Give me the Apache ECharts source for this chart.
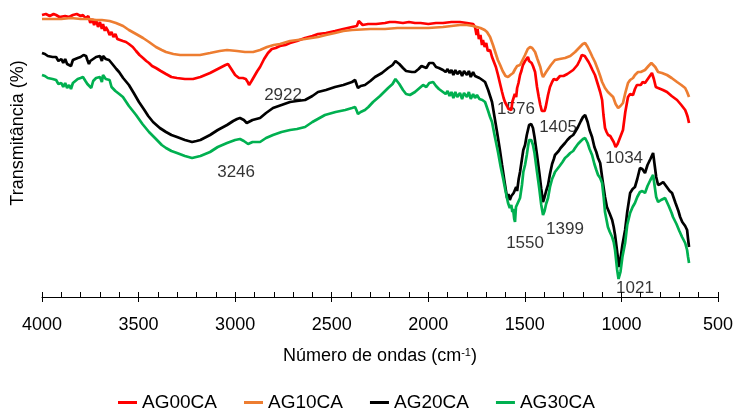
<!DOCTYPE html>
<html><head><meta charset="utf-8">
<script src="https://cdn.jsdelivr.net/npm/echarts@6/dist/echarts.min.js"></script>
<style>html,body{margin:0;padding:0;background:#fff}#c{width:739px;height:408px}</style>
</head><body><div id="c"></div>
<script>
const seriesNames = ['AG00CA','AG10CA','AG20CA','AG30CA'];
const seriesColors = ['#FF0000','#ED7D31','#000000','#00B050'];
const xTickLabels = [4000,3500,3000,2500,2000,1500,1000,500];

const ag00ca = [[4000,282],[3980,283],[3960,281],[3940,283],[3927,282],[3910,280],[3900,282],[3880,281],[3860,280],[3840,282],[3820,283],[3800,281],[3788,282],[3775,279],[3760,281],[3750,274],[3740,278],[3730,272],[3720,277],[3710,270],[3700,275],[3690,268],[3684,273],[3675,266],[3670,270],[3658,266],[3650,262],[3640,265],[3630,260],[3620,263],[3610,258],[3601,259],[3581,256],[3565,255],[3550,253],[3530,250],[3513,246],[3495,242],[3477,239],[3460,236],[3446,234],[3430,231],[3410,229],[3385,226],[3358,223],[3330,220],[3301,219],[3260,218],[3218,218],[3180,220],[3130,224],[3080,229],[3050,232],[3037,233],[3020,228],[3000,222],[2980,219],[2960,219],[2945,218],[2935,215],[2928,212],[2915,216],[2900,221],[2885,226],[2871,230],[2850,238],[2830,244],[2810,248],[2790,249],[2768,251],[2740,252],[2716,254],[2680,256],[2638,259],[2600,261],[2571,263],[2530,264],[2483,266],[2440,268],[2395,270],[2370,271],[2360,276],[2350,275],[2340,272],[2312,273],[2270,273],[2224,274],[2200,275],[2172,275],[2131,274],[2100,275],[2069,274],[2040,274],[2000,273],[1960,274],[1924,274],[1880,275],[1836,275],[1800,274],[1768,273],[1758,270],[1750,262],[1745,268],[1738,258],[1730,262],[1722,252],[1717,257],[1708,250],[1700,254],[1692,246],[1680,247],[1670,240],[1660,238],[1650,230],[1639,222],[1628,213],[1618,205],[1610,199],[1603,195],[1592,191],[1585,188],[1577,189],[1570,187],[1565,195],[1560,197],[1552,203],[1545,200],[1540,209],[1533,214],[1525,222],[1518,226],[1510,232],[1504,230],[1499,236],[1492,235],[1484,240],[1478,236],[1473,236],[1465,234],[1458,231],[1447,225],[1437,210],[1428,200],[1420,192],[1412,186],[1406,184],[1398,186],[1392,190],[1380,202],[1370,210],[1359,215],[1350,218],[1344,220],[1336,217],[1328,219],[1318,221],[1310,222],[1300,221],[1292,223],[1280,223],[1265,225],[1250,227],[1240,229],[1228,232],[1215,237],[1205,242],[1199,244],[1190,241],[1180,238],[1170,235],[1162,232],[1150,227],[1137,222],[1121,212],[1110,205],[1100,197],[1093,182],[1085,169],[1077,165],[1069,162],[1058,161],[1048,160],[1040,155],[1030,150],[1020,153],[1010,158],[1000,163],[992,167],[980,185],[966,200],[955,203],[940,202],[930,208],[920,212],[914,214],[900,212],[890,215],[878,214],[860,219],[842,224],[832,218],[822,210],[810,209],[800,207],[785,207],[764,205],[740,201],[712,197],[690,192],[670,187],[662,183],[657,180],[650,174]];

const ag10ca = [[4000,278],[3950,278],[3900,278],[3850,279],[3800,278],[3760,278],[3720,277],[3690,277],[3650,276],[3617,274],[3580,271],[3550,267],[3513,263],[3477,259],[3446,255],[3410,250],[3380,247],[3358,245],[3320,243],[3285,242],[3223,242],[3182,242],[3130,244],[3080,246],[3042,247],[2990,246],[2949,245],[2907,245],[2871,247],[2835,250],[2800,252],[2768,253],[2716,256],[2638,258],[2571,260],[2530,262],[2483,264],[2440,266],[2395,267],[2300,268],[2224,268],[2160,269],[2100,269],[2000,269],[1924,270],[1880,271],[1836,272],[1800,272],[1768,271],[1748,270],[1730,269],[1720,268],[1708,267],[1696,265],[1680,260],[1665,252],[1650,243],[1640,237],[1628,232],[1615,226],[1600,221],[1587,220],[1575,222],[1561,224],[1550,228],[1540,231],[1532,233],[1525,232],[1512,237],[1499,242],[1485,248],[1473,250],[1462,249],[1447,245],[1435,238],[1420,230],[1412,223],[1406,220],[1398,222],[1390,225],[1380,227],[1365,232],[1344,237],[1320,238],[1292,239],[1265,241],[1240,245],[1215,250],[1200,253],[1188,254],[1175,250],[1162,245],[1150,240],[1137,235],[1121,227],[1110,221],[1100,215],[1085,209],[1070,205],[1060,203],[1043,200],[1030,193],[1017,189],[1005,191],[992,194],[980,204],[966,214],[955,217],[940,219],[930,222],[914,225],[900,225],[878,227],[860,231],[845,234],[836,235],[825,230],[810,225],[790,224],[764,222],[740,219],[712,215],[690,212],[670,209],[660,205],[655,203],[650,200]];

const ag20ca = [[4000,244],[3985,243],[3970,241],[3960,243],[3945,240],[3927,240],[3915,236],[3900,238],[3890,234],[3880,238],[3870,233],[3860,235],[3850,231],[3840,237],[3830,236],[3815,239],[3800,240],[3785,242],[3772,241],[3765,237],[3757,233],[3750,236],[3746,234],[3735,238],[3720,240],[3710,238],[3700,241],[3690,236],[3684,241],[3670,238],[3660,240],[3653,237],[3640,234],[3630,232],[3615,228],[3601,225],[3580,219],[3550,212],[3525,204],[3498,195],[3470,187],[3450,181],[3425,175],[3390,169],[3358,165],[3330,162],[3301,160],[3260,157],[3223,155],[3200,156],[3180,157],[3130,162],[3090,167],[3042,172],[3010,176],[2990,178],[2975,179],[2955,177],[2940,174],[2933,175],[2910,177],[2871,179],[2840,184],[2804,189],[2760,192],[2716,195],[2680,196],[2638,197],[2600,201],[2571,205],[2530,207],[2483,210],[2440,212],[2395,215],[2379,217],[2370,212],[2364,209],[2350,211],[2328,212],[2300,216],[2276,220],[2240,224],[2208,229],[2185,232],[2170,236],[2162,238],[2150,233],[2131,229],[2115,226],[2105,224],[2085,225],[2069,225],[2050,228],[2035,231],[2027,232],[2010,229],[1995,234],[1975,234],[1960,230],[1945,229],[1924,227],[1910,225],[1900,228],[1890,224],[1880,227],[1870,222],[1860,227],[1850,223],[1836,226],[1825,221],[1815,226],[1800,222],[1790,226],[1780,220],[1768,225],[1758,221],[1748,222],[1735,219],[1720,217],[1706,215],[1690,207],[1680,201],[1670,195],[1657,180],[1644,165],[1630,148],[1618,132],[1605,115],[1592,99],[1585,103],[1578,97],[1570,101],[1566,99],[1558,104],[1551,102],[1545,110],[1540,106],[1532,118],[1525,125],[1515,138],[1508,147],[1499,152],[1490,162],[1484,167],[1478,172],[1473,174],[1467,173],[1458,169],[1450,160],[1437,142],[1425,124],[1415,108],[1406,95],[1398,100],[1390,106],[1380,112],[1370,123],[1359,133],[1350,138],[1344,142],[1335,144],[1325,146],[1315,149],[1305,151],[1292,154],[1280,157],[1265,160],[1250,162],[1240,165],[1225,170],[1210,176],[1199,180],[1188,182],[1175,175],[1165,167],[1152,160],[1140,150],[1130,145],[1121,139],[1110,134],[1098,117],[1085,100],[1075,90],[1060,83],[1048,77],[1040,70],[1033,62],[1022,45],[1015,34],[1012,30],[1005,38],[995,52],[981,67],[970,85],[955,104],[942,108],[930,110],[918,118],[904,129],[892,128],[878,124],[865,132],[850,138],[836,144],[828,132],[820,120],[810,112],[798,113],[784,115],[765,110],[750,106],[738,104],[720,94],[705,86],[696,80],[685,75],[670,71],[660,67],[655,58],[650,50]];

const ag30ca = [[4000,222],[3985,221],[3970,219],[3960,220],[3945,218],[3927,217],[3915,213],[3900,214],[3890,210],[3880,214],[3870,209],[3860,212],[3850,208],[3840,214],[3830,215],[3815,218],[3800,219],[3788,220],[3775,216],[3765,213],[3757,214],[3745,209],[3735,216],[3720,219],[3710,217],[3700,220],[3690,215],[3684,222],[3670,218],[3660,219],[3650,217],[3640,210],[3632,212],[3620,206],[3600,203],[3581,200],[3550,191],[3513,182],[3480,173],[3446,165],[3410,158],[3380,152],[3358,149],[3330,146],[3301,144],[3260,141],[3223,139],[3180,141],[3130,145],[3090,150],[3042,154],[3000,157],[2975,158],[2955,156],[2945,154],[2933,153],[2910,155],[2871,155],[2840,159],[2804,162],[2760,165],[2716,167],[2680,168],[2638,170],[2600,175],[2535,182],[2480,185],[2430,187],[2395,189],[2379,190],[2370,186],[2364,183],[2350,185],[2328,187],[2310,190],[2286,195],[2250,201],[2208,209],[2185,213],[2170,218],[2162,220],[2150,213],[2131,207],[2115,203],[2095,202],[2069,205],[2045,209],[2027,212],[2010,210],[1995,214],[1975,215],[1960,211],[1945,208],[1924,205],[1910,203],[1900,206],[1890,201],[1880,205],[1870,199],[1860,205],[1850,200],[1836,204],[1825,198],[1815,204],[1800,200],[1790,205],[1780,198],[1768,203],[1758,199],[1748,202],[1735,198],[1720,197],[1706,195],[1690,186],[1680,180],[1670,175],[1655,160],[1639,145],[1625,130],[1613,119],[1600,106],[1587,94],[1578,89],[1570,92],[1565,85],[1561,88],[1555,78],[1551,75],[1546,90],[1540,92],[1532,96],[1525,99],[1515,112],[1508,125],[1499,132],[1490,142],[1484,150],[1478,157],[1473,159],[1467,157],[1458,152],[1450,144],[1437,125],[1425,108],[1415,92],[1406,82],[1398,86],[1390,93],[1380,99],[1370,110],[1359,118],[1350,122],[1344,125],[1335,127],[1320,131],[1305,135],[1292,139],[1280,141],[1265,144],[1250,146],[1240,149],[1225,153],[1210,156],[1199,158],[1188,159],[1175,154],[1165,148],[1152,142],[1140,133],[1130,127],[1121,122],[1110,119],[1100,114],[1092,100],[1085,85],[1070,70],[1060,65],[1048,60],[1040,55],[1033,47],[1022,27],[1015,18],[1012,17],[1005,25],[995,40],[981,54],[970,72],[955,84],[942,90],[930,94],[918,100],[904,105],[892,106],[878,104],[865,111],[850,117],[836,122],[828,111],[820,100],[810,95],[795,97],[774,99],[755,91],[740,84],[733,80],[715,73],[700,66],[686,60],[670,54],[660,47],[655,40],[650,34]];

const peakLabels = ['3246','2922','1576','1405','1034','1550','1399','1021'];
const peakX = [2995,2752,1546,1328,986,1499,1292,930];
const peakY = [125,202,188,170,139,54,68,9];

const FONT = '"Liberation Sans", Arial, sans-serif';
const chart = echarts.init(document.getElementById('c'));
const seriesData = [ag00ca, ag10ca, ag20ca, ag30ca];
const series = seriesNames.map((n, i) => ({
  name: n, type: 'line', data: seriesData[i], showSymbol: false, symbol: 'none',
  lineStyle: { color: seriesColors[i], width: 2.7 }, itemStyle: { color: seriesColors[i] }
}));
series.push({
  type: 'scatter', symbolSize: 0, silent: true,
  data: peakX.map((x, i) => [x, peakY[i]]),
  label: { show: true, position: 'inside', formatter: p => peakLabels[p.dataIndex], color: '#000', fontSize: 17, fontFamily: FONT }
});
chart.setOption({
  animation: false,
  backgroundColor: '#fff',
  grid: { left: 42, right: 21, top: 8, bottom: 111 },
  xAxis: [{
    type: 'value', min: 500, max: 4000, interval: 100, inverse: true,
    axisLine: { lineStyle: { color: '#000', width: 1 } },
    axisTick: { inside: true, length: 5, lineStyle: { color: '#000' } },
    axisLabel: { formatter: v => xTickLabels.includes(v) ? String(v) : '', color: '#000', fontSize: 18, margin: 19, fontFamily: FONT },
    splitLine: { show: false },
    name: 'Número de ondas (cm{s|-1})', nameLocation: 'middle', nameGap: 50,
    nameTextStyle: { color: '#000', fontSize: 18, fontFamily: FONT, rich: { s: { fontSize: 11, fontFamily: FONT, color: '#000', verticalAlign: 'top', padding: [0, 0, 8, 0] } } }
  }, {
    type: 'value', min: 500, max: 4000, interval: 500, inverse: true, position: 'bottom',
    axisLine: { show: false }, axisTick: { inside: false, length: 5, lineStyle: { color: '#000' } },
    axisLabel: { show: false }, splitLine: { show: false }
  }],
  yAxis: { type: 'value', min: 0, max: 289, axisLine: { show: false }, axisTick: { show: false }, axisLabel: { show: false }, splitLine: { show: false } },
  legend: {
    data: seriesNames, left: 113, top: 388, itemWidth: 19, itemHeight: 3, itemGap: 27, icon: 'rect',
    textStyle: { fontSize: 19, color: '#000', fontFamily: FONT }
  },
  graphic: [{
    type: 'text', x: 18, y: 133, rotation: Math.PI / 2,
    style: { text: 'Transmitância (%)', fill: '#000', font: '18px ' + FONT, textAlign: 'center', textVerticalAlign: 'middle' }
  }],
  series: series
});
</script></body></html>
